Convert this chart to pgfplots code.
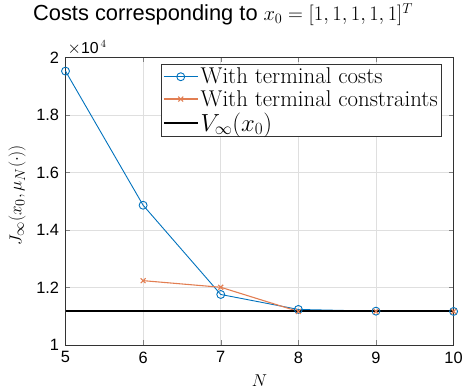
\documentclass[border=0pt]{standalone}
\usepackage{fontspec}
\usepackage{pgfplots}
\pgfplotsset{compat=1.18}
\newfontfamily\helv{Liberation Sans}
\definecolor{mblue}{rgb}{0,0.447,0.741}
\definecolor{morange}{rgb}{0.851,0.325,0.098}
\begin{document}
\begin{tikzpicture}
\begin{axis}[
  scale only axis,
  width=391pt, height=290pt,
  xmin=5, xmax=10, ymin=1, ymax=2,
  clip=false,
  xtick={5,6,7,8,9,10},
  ytick={1,1.2,1.4,1.6,1.8,2},
  yticklabel style={/pgf/number format/fixed, xshift=-3pt},
  xticklabel style={yshift=-3pt},
  /pgf/number format/assume math mode=true,
  tick label style={font=\fontsize{16.5}{18}\selectfont\helv},
  tick align=inside,
  tick pos=both,
  major tick length=5pt,
  grid=major,
  major grid style={gray!25, line width=0.6pt},
  axis line style={line width=0.8pt, black!80},
  title={{\fontsize{22}{24}\selectfont\helv Costs corresponding to} $x_0=[1,1,1,1,1]^T$},
  title style={font=\fontsize{19.5}{22}\selectfont, at={(axis description cs:0.406,1.128)}, anchor=center},
  xlabel={$N$},
  ylabel={$J_\infty(x_0,\mu_N(\cdot))$},
  label style={font=\fontsize{19}{22}\selectfont},
  xlabel style={at={(axis description cs:0.5,-0.124)}, anchor=center},
  ylabel style={at={(axis description cs:-0.125,0.52)}, anchor=center},
  legend style={at={(0.969,0.976)}, anchor=north east, font=\fontsize{23}{25}\selectfont,
    draw=black!80, line width=0.8pt, inner sep=1.5pt, row sep=1pt,
    legend cell align=left},
  legend image code/.code={
    \draw[mark repeat=2,mark phase=2,#1] plot coordinates {(0cm,0cm) (0.6cm,0cm) (1.2cm,0cm)};},
]
\addplot[color=mblue, line width=0.9pt, mark=o, mark size=4pt, mark options={line width=0.9pt}]
  coordinates {(5,1.952) (6,1.486) (7,1.176) (8,1.124) (9,1.118) (10,1.117)};
\addlegendentry{With terminal costs}
\addplot[color=morange!75, line width=1.1pt, mark=x, mark size=3.5pt, mark options={line width=1.1pt}]
  coordinates {(6,1.224) (7,1.201) (8,1.117) (9,1.117) (10,1.117)};
\addlegendentry{With terminal constraints}
\addplot[black, line width=2.1pt, no marks] coordinates {(5,1.117) (10,1.117)};
\addlegendentry{$V_\infty(x_0)$}
\end{axis}
\node[anchor=south west, font=\fontsize{16}{18}\selectfont\helv, inner sep=0pt] at ([xshift=2pt,yshift=2pt]current axis.north west) {$\times$10$^{\,4}$};
\path (current axis.south west) ++(-66pt,-45pt) coordinate (bbA);
\path (current axis.north east) ++(9pt,55pt) coordinate (bbB);
\path (bbA) rectangle (bbB);
\end{tikzpicture}
\end{document}
